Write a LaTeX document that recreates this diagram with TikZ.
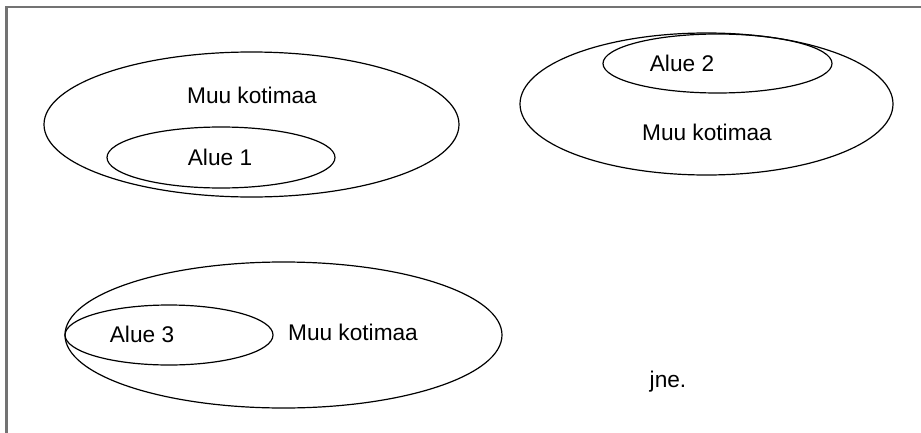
\documentclass[tikz,border=0pt]{standalone}
\usepackage{fontspec}
\setmainfont{Liberation Sans}

\begin{document}
\begin{tikzpicture}[x=0.75pt,y=-0.75pt]

      \useasboundingbox (0,0) rectangle (921,432);
      \draw[black!55,line width=1.6pt] (940,7) -- (6.5,7) -- (6.5,445);

      \begin{scope}[line width=0.9pt]
        \coordinate (m1) at (251.5,124.5);
        \coordinate (a1) at (221,157.5);
        \coordinate (m2) at (706.5,104);
        \coordinate (a2) at (717.5,63.5);
        \coordinate (m3) at (283.5,335);
        \coordinate (a3) at (169,335);

        \draw (m1) ellipse [x radius=207.5,y radius=72.5];
        \draw (a1) ellipse [x radius=114,y radius=30.5];
        \draw (m2) ellipse [x radius=186.5,y radius=71];
        \draw (a2) ellipse [x radius=114.5,y radius=29.5];
        \draw (m3) ellipse [x radius=218.5,y radius=73];
        \draw (a3) ellipse [x radius=104,y radius=30];
      \end{scope}

      \begin{scope}[every node/.style={inner sep=0pt,font=\fontsize{17}{20}\selectfont}]
        \node (t1) at (252,95)  {Muu kotimaa};
        \node (u1) at (220,157) {Alue 1};
        \node (t2) at (707,132) {Muu kotimaa};
        \node (u2) at (682,63)  {Alue 2};
        \node (t3) at (353,332) {Muu kotimaa};
        \node (u3) at (142,334) {Alue 3};
        \node (jne) at (668,382) {jne.};
      \end{scope}

    \end{tikzpicture}
\end{document}
